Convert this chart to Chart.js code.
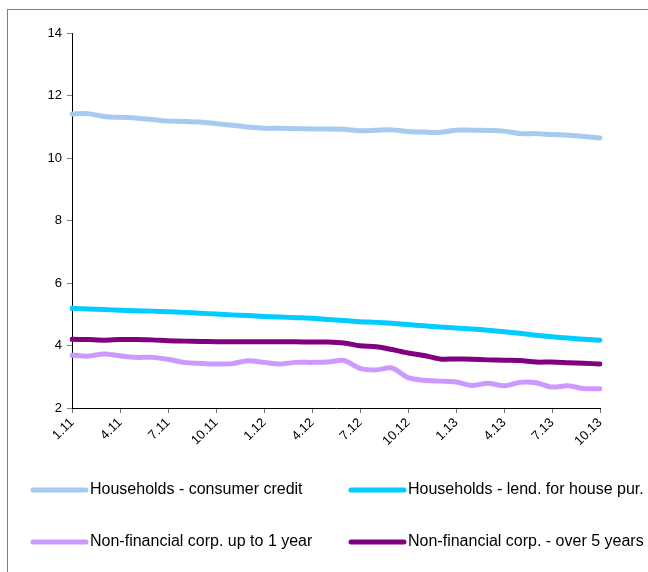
<!DOCTYPE html>
<html>
<head>
<meta charset="utf-8">
<script src="https://cdn.jsdelivr.net/npm/chart.js@4"></script>
<style>
  html, body { margin: 0; padding: 0; background: #fff; }
  #chart { display: block; }
</style>
</head>
<body>
<canvas id="chart" width="648" height="572"></canvas>
<script>
// monthly observations, Jan 2011 - Oct 2013
const months = [
  "1.11", "2.11", "3.11", "4.11", "5.11", "6.11", "7.11", "8.11", "9.11", "10.11", "11.11", "12.11",
  "1.12", "2.12", "3.12", "4.12", "5.12", "6.12", "7.12", "8.12", "9.12", "10.12", "11.12", "12.12",
  "1.13", "2.13", "3.13", "4.13", "5.13", "6.13", "7.13", "8.13", "9.13", "10.13"
];

const consumerCredit = [11.41, 11.42, 11.33, 11.30, 11.28, 11.23, 11.18, 11.17, 11.15, 11.10, 11.05, 10.99,
  10.95, 10.95, 10.94, 10.93, 10.93, 10.92, 10.87, 10.89, 10.90, 10.85, 10.83, 10.82,
  10.89, 10.89, 10.88, 10.86, 10.78, 10.78, 10.75, 10.73, 10.69, 10.64];

const housePurchase = [5.19, 5.17, 5.15, 5.13, 5.11, 5.10, 5.08, 5.06, 5.03, 5.01, 4.98, 4.96,
  4.93, 4.91, 4.89, 4.87, 4.83, 4.80, 4.76, 4.74, 4.71, 4.67, 4.63, 4.59,
  4.56, 4.53, 4.49, 4.44, 4.39, 4.33, 4.28, 4.24, 4.20, 4.17];

const corpUpTo1y = [3.69, 3.66, 3.73, 3.67, 3.62, 3.62, 3.56, 3.46, 3.43, 3.41, 3.42, 3.51,
  3.46, 3.41, 3.46, 3.46, 3.47, 3.52, 3.27, 3.22, 3.28, 2.97, 2.89, 2.86,
  2.83, 2.72, 2.79, 2.71, 2.82, 2.81, 2.67, 2.71, 2.62, 2.62];

const corpOver5y = [4.20, 4.19, 4.17, 4.19, 4.19, 4.18, 4.15, 4.14, 4.13, 4.12, 4.12, 4.12,
  4.12, 4.12, 4.12, 4.11, 4.11, 4.08, 3.99, 3.96, 3.87, 3.76, 3.68, 3.57,
  3.57, 3.56, 3.54, 3.53, 3.52, 3.47, 3.47, 3.45, 3.43, 3.41];

const seriesNames = [
  "Households - consumer credit",
  "Households - lend. for house pur.",
  "Non-financial corp. up to 1 year",
  "Non-financial corp. - over 5 years"
];

const FONT = "'Liberation Sans', Arial, sans-serif";

function line(label, data, color) {
  return {
    label,
    data,
    borderColor: color,
    backgroundColor: color,
    borderWidth: 5,
    pointRadius: 0,
    tension: 0.3,
    borderCapStyle: "round",
    borderJoinStyle: "round",
    fill: false,
  };
}

// outer frame (only the top and left edges fall inside the canvas)
const framePlugin = {
  id: "frame",
  beforeDraw(chart) {
    const c = chart.ctx;
    c.save();
    c.strokeStyle = "#808080";
    c.lineWidth = 1;
    c.strokeRect(7.5, 9.5, 1000, 1000);
    c.restore();
  }
};

// two-column legend under the plot
const legendPlugin = {
  id: "gridLegend",
  afterDraw(chart) {
    const c = chart.ctx;
    const cols = [33, 351];
    const rows = [490, 542];
    c.save();
    chart.data.datasets.forEach((ds, i) => {
      const x = cols[i % 2];
      const y = rows[Math.floor(i / 2)];
      c.strokeStyle = ds.borderColor;
      c.lineWidth = 5;
      c.lineCap = "round";
      c.beginPath();
      c.moveTo(x, y);
      c.lineTo(x + 53, y);
      c.stroke();
      c.fillStyle = "#000";
      c.font = "16px " + FONT;
      c.textBaseline = "middle";
      c.fillText(ds.label, x + 57, y);
    });
    c.restore();
  }
};

new Chart(document.getElementById("chart"), {
  type: "line",
  data: {
    labels: months,
    datasets: [
      line(seriesNames[0], consumerCredit, "#A6CAF0"),
      line(seriesNames[1], housePurchase, "#00CCFF"),
      line(seriesNames[2], corpUpTo1y, "#CC99FF"),
      line(seriesNames[3], corpOver5y, "#800080"),
    ],
  },
  options: {
    responsive: false,
    animation: false,
    layout: { padding: { left: 0, top: 33, right: 48, bottom: 0 } },
    plugins: {
      legend: { display: false },
      tooltip: { enabled: false },
    },
    scales: {
      x: {
        offset: false,
        afterFit: (s) => { s.height = 164; },
        border: { display: true, color: "#000", width: 1 },
        grid: {
          drawOnChartArea: false,
          drawTicks: true,
          tickLength: 5,
          tickColor: (ctx) => (ctx.index % 3 === 0 ? "#707070" : "rgba(0,0,0,0)"),
        },
        ticks: {
          autoSkip: false,
          maxRotation: 45,
          minRotation: 45,
          padding: 2,
          color: "#000",
          font: { family: FONT, size: 13 },
          callback: (v, i) => (i % 3 === 0 ? months[i] : ""),
        },
      },
      y: {
        min: 2,
        max: 14,
        afterFit: (s) => { s.width = 72; },
        border: { display: true, color: "#000", width: 1 },
        grid: {
          drawOnChartArea: false,
          drawTicks: true,
          tickLength: 5,
          tickColor: "#808080",
        },
        ticks: {
          stepSize: 2,
          padding: 5,
          color: "#000",
          font: { family: FONT, size: 13 },
        },
      },
    },
  },
  plugins: [framePlugin, legendPlugin],
});
</script>
</body>
</html>
